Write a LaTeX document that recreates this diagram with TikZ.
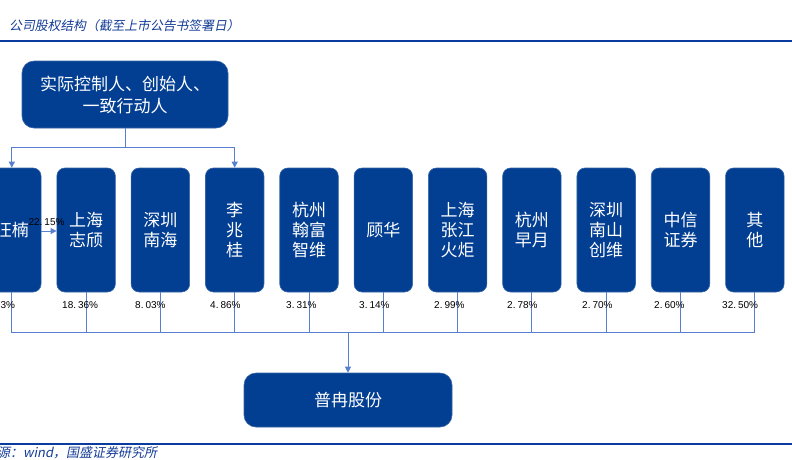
\documentclass[tikz,border=0pt]{standalone}
\usepackage{fontspec}
\usetikzlibrary{arrows.meta}
\newfontfamily\cjk{Noto Sans CJK SC}
\newfontfamily\cjkit[FakeSlant=0.2]{Noto Sans CJK SC}
\newfontfamily\arialf{Liberation Sans}
\definecolor{boxblue}{RGB}{2,62,146}
\definecolor{lineblue}{RGB}{88,128,206}
\definecolor{ruleblue}{RGB}{10,60,160}
\definecolor{titleblue}{RGB}{20,60,150}
\tikzset{
  holder/.style={rectangle, rounded corners=8pt, fill=boxblue, draw=boxblue!80!white, line width=0.6pt,
    minimum width=58.5pt, minimum height=124pt, inner sep=0pt, text=white, align=center,
    font=\cjk\fontsize{17}{20}\selectfont},
  bigbox/.style={rectangle, rounded corners=12pt, fill=boxblue, draw=boxblue!80!white, line width=0.6pt,
    inner sep=0pt, text=white, align=center},
  pct/.style={anchor=west, inner sep=0pt, font=\arialf\fontsize{10}{12}\selectfont, text=black},
  conn/.style={draw=lineblue, line width=1pt},
  arr/.style={conn, -{Triangle[width=6pt,length=6pt]}},
  rulel/.style={draw=ruleblue, line width=1.8pt},
}
\begin{document}
\begin{tikzpicture}[x=1pt, y=-1pt]
\useasboundingbox (0,0) rectangle (792,459);
% title and rules
\node[anchor=west, inner sep=0pt, text=titleblue, font=\cjkit\fontsize{12.8}{14}\selectfont] (title) at (9,26) {公司股权结构（截至上市公告书签署日）};
\draw[rulel] (0,40.7) -- (792,40.7);
\draw[rulel] (0,444) -- (792,444);
\node[anchor=west, inner sep=0pt, text=titleblue, font=\cjkit\fontsize{13}{14}\selectfont] (src) at (-3,452.5) {源：wind，国盛证券研究所};
% top box
\node[bigbox, minimum width=206pt, minimum height=67pt, font=\cjk\fontsize{17}{22}\selectfont] (ctrl) at (125,94.5) {实际控制人、创始人、\\一致行动人};
% holders
\node[holder] (b1) at (11.8,230) {汪楠};
\node[holder] (b2) at (86.1,230) {上海\\志颀};
\node[holder] (b3) at (160.4,230) {深圳\\南海};
\node[holder] (b4) at (234.7,230) {李\\兆\\桂};
\node[holder] (b5) at (309.0,230) {杭州\\翰富\\智维};
\node[holder] (b6) at (383.3,230) {顾华};
\node[holder] (b7) at (457.6,230) {上海\\张江\\火炬};
\node[holder] (b8) at (531.9,230) {杭州\\早月};
\node[holder] (b9) at (606.2,230) {深圳\\南山\\创维};
\node[holder] (b10) at (680.5,230) {中信\\证券};
\node[holder] (b11) at (754.8,230) {其\\他};
% bottom box
\node[bigbox, minimum width=208pt, minimum height=54pt, font=\cjk\fontsize{17}{20}\selectfont] (pr) at (348,400) {普冉股份};
% connectors top
\coordinate (tj) at (125,147);
\draw[conn] (ctrl.south) -- (tj);
\draw[arr] (tj) -| (b1.north);
\draw[arr] (tj) -| (b4.north);
% arrow b1 -> b2
\coordinate (a1) at (41,231);
\draw[arr] (b1.east |- a1) -- (b2.west |- a1);
\node[anchor=center, inner sep=0pt, font=\arialf\fontsize{10}{12}\selectfont] (l12) at (46.5,222) {22.\hspace{2pt}15\%};
% connectors bottom
\coordinate (bj) at (348,332);
\foreach \i in {1,...,11} { \draw[conn] (b\i.south) |- (bj); }
\draw[arr] (bj) -- (pr.north);
% percentages
\node[pct] (p1) at (-21,305.5) {18.\hspace{2pt}73\%};
\node[pct] (p2) at (62,305.5) {18.\hspace{2pt}36\%};
\node[pct] (p3) at (135,305.5) {8.\hspace{2pt}03\%};
\node[pct] (p4) at (210,305.5) {4.\hspace{2pt}86\%};
\node[pct] (p5) at (286,305.5) {3.\hspace{2pt}31\%};
\node[pct] (p6) at (359,305.5) {3.\hspace{2pt}14\%};
\node[pct] (p7) at (434,305.5) {2.\hspace{2pt}99\%};
\node[pct] (p8) at (507,305.5) {2.\hspace{2pt}78\%};
\node[pct] (p9) at (582,305.5) {2.\hspace{2pt}70\%};
\node[pct] (p10) at (654,305.5) {2.\hspace{2pt}60\%};
\node[pct] (p11) at (722,305.5) {32.\hspace{2pt}50\%};
\end{tikzpicture}
\end{document}
